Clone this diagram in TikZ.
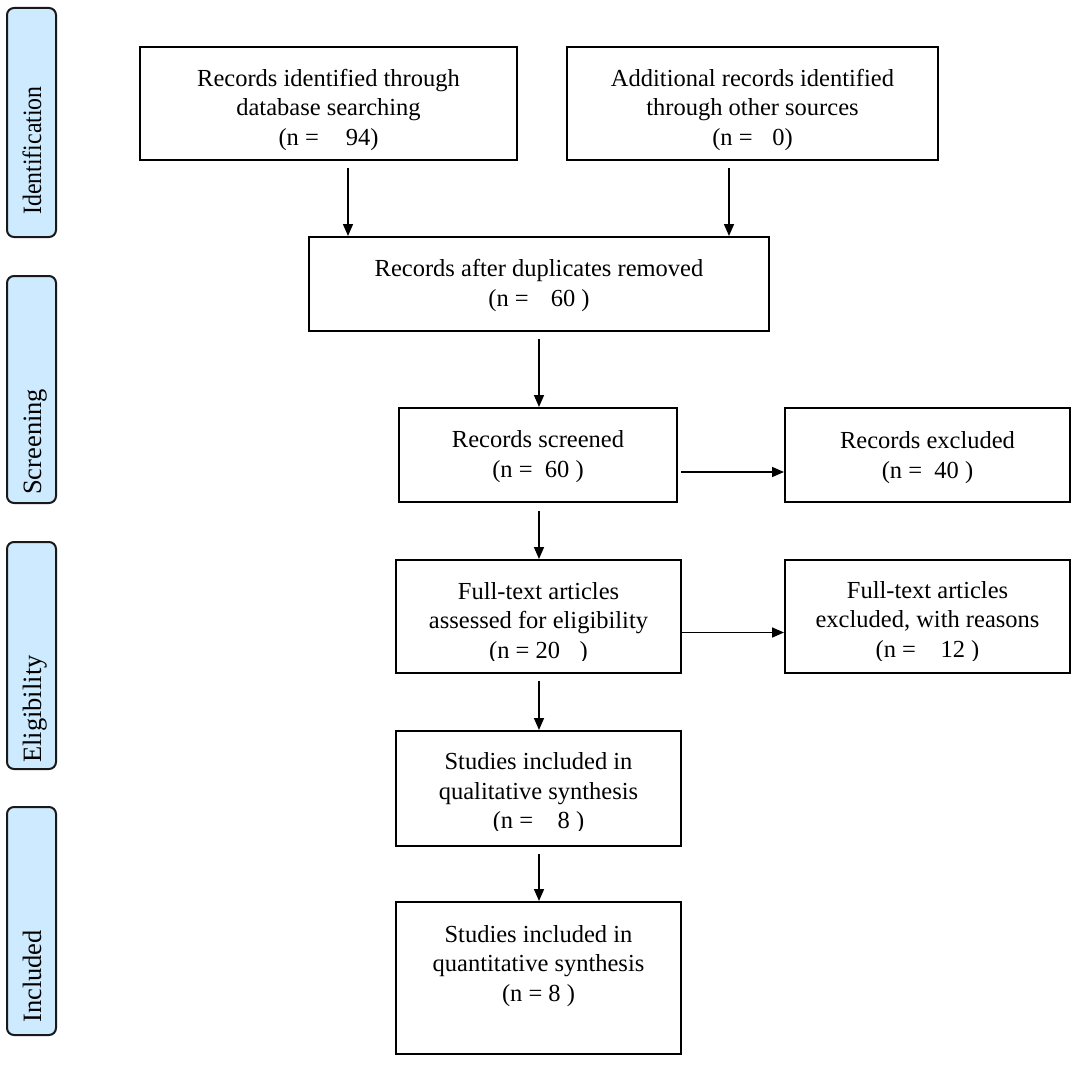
\documentclass[tikz,border=0pt]{standalone}
\usepackage{fontspec}
\usepackage{graphicx}
\setmainfont{Liberation Serif}
\usetikzlibrary{arrows.meta,calc}
\definecolor{sidefill}{RGB}{205,234,254}
\tikzset{
  box/.style={draw=black, line width=2pt, inner sep=0pt},
  side/.style={draw=black!90, line width=2pt, rounded corners=7pt, fill=sidefill, inner sep=0pt},
  txt/.style={align=center, inner sep=0pt, font=\fontsize{24.5}{29.5}\selectfont},
  sidetxt/.style={rotate=90, anchor=base west, inner sep=0pt, font=\fontsize{26.5}{30}\selectfont},
  arr/.style={line width=1.6pt, -{Triangle[length=12pt,width=10pt]}},
}
\begin{document}
\begin{tikzpicture}[x=1pt,y=-1pt]
\useasboundingbox (0,0) rectangle (1084,1065);
% side bars
\node[side, minimum width=49pt, minimum height=229pt] (S1) at (31.5,122.5) {};
\node[side, minimum width=49pt, minimum height=227pt] (S2) at (31.5,389.5) {};
\node[side, minimum width=49pt, minimum height=227pt] (S3) at (31.5,655.5) {};
\node[side, minimum width=49pt, minimum height=228pt] (S4) at (31.5,921) {};
\node[sidetxt] (S1t) at (41,215) {\scalebox{0.9}[1]{Identification}};
\node[sidetxt] (S2t) at (41,495) {Screening};
\node[sidetxt] (S3t) at (41,763) {Eligibility};
\node[sidetxt] (S4t) at (41,1023) {Included};
% boxes
\node[box, minimum width=377pt, minimum height=113pt] (A) at (328.5,103.5) {};
\node[box, minimum width=371pt, minimum height=113pt] (B) at (752.5,103.5) {};
\node[box, minimum width=460pt, minimum height=94pt] (C) at (539,284) {};
\node[box, minimum width=278pt, minimum height=94pt] (D) at (538,455) {};
\node[box, minimum width=285pt, minimum height=94pt] (E) at (927.5,455) {};
\node[box, minimum width=285pt, minimum height=113pt] (F) at (538.5,616.5) {};
\node[box, minimum width=285pt, minimum height=113pt] (G) at (927.5,616.5) {};
\node[box, minimum width=285pt, minimum height=115pt] (H) at (538.5,788.5) {};
\node[box, minimum width=285pt, minimum height=152pt] (I) at (538.5,978) {};
% texts
\node[txt] (At) at (328.5,109.5) {Records identified through\\database searching\\(n =\hspace{1.1em}94)};
\node[txt] (Bt) at (752.5,109.5) {Additional records identified\\through other sources\\(n =\hspace{0.8em}0)};
\node[txt] (Ct) at (539,285.5) {Records after duplicates removed\\(n =\hspace{0.9em}60 )};
\node[txt] (Dt) at (538,456.5) {Records screened\\(n =\hspace{0.5em}60 )};
\node[txt] (Et) at (927.5,457.5) {Records excluded\\(n =\hspace{0.5em}40 )};
\begin{scope}
  \clip (390,560) rectangle (1075,660);
  \node[txt] (Ft) at (538.5,623) {Full-text articles\\assessed for eligibility\\(n = 20\hspace{0.8em})};
  \node[txt] (Gt) at (927.5,622) {Full-text articles\\excluded, with reasons\\(n =\hspace{1em}12 )};
\end{scope}
\begin{scope}
  \clip (390,731) rectangle (690,830);
  \node[txt] (Ht) at (538.5,793.5) {Studies included in\\qualitative synthesis\\(n =\hspace{1em}8 )};
\end{scope}
\node[txt] (It) at (538.5,966) {Studies included in\\quantitative synthesis\\(n = 8 )};
% connectors
\coordinate (a1) at ($(A.south)+(19.5,7)$);
\coordinate (b1) at ($(B.south)+(-23.5,7)$);
\draw[arr] (a1) -- (a1 |- C.north);
\draw[arr] (b1) -- (b1 |- C.north);
\coordinate (c1) at ($(C.south)+(0,7)$);
\draw[arr] (c1) -- (c1 |- D.north);
\coordinate (d1) at ($(D.east)+(3,17)$);
\draw[arr] (d1) -- (d1 -| E.west);
\coordinate (d2) at ($(D.south)+(1,8)$);
\draw[arr] (d2) -- (d2 |- F.north);
\coordinate (f1) at ($(F.east)+(0,16)$);
\draw[arr] (f1) -- (f1 -| G.west);
\coordinate (f2) at ($(F.south)+(0.5,7)$);
\draw[arr] (f2) -- (f2 |- H.north);
\coordinate (h1) at ($(H.south)+(0.5,7)$);
\draw[arr] (h1) -- (h1 |- I.north);
\end{tikzpicture}
\end{document}
